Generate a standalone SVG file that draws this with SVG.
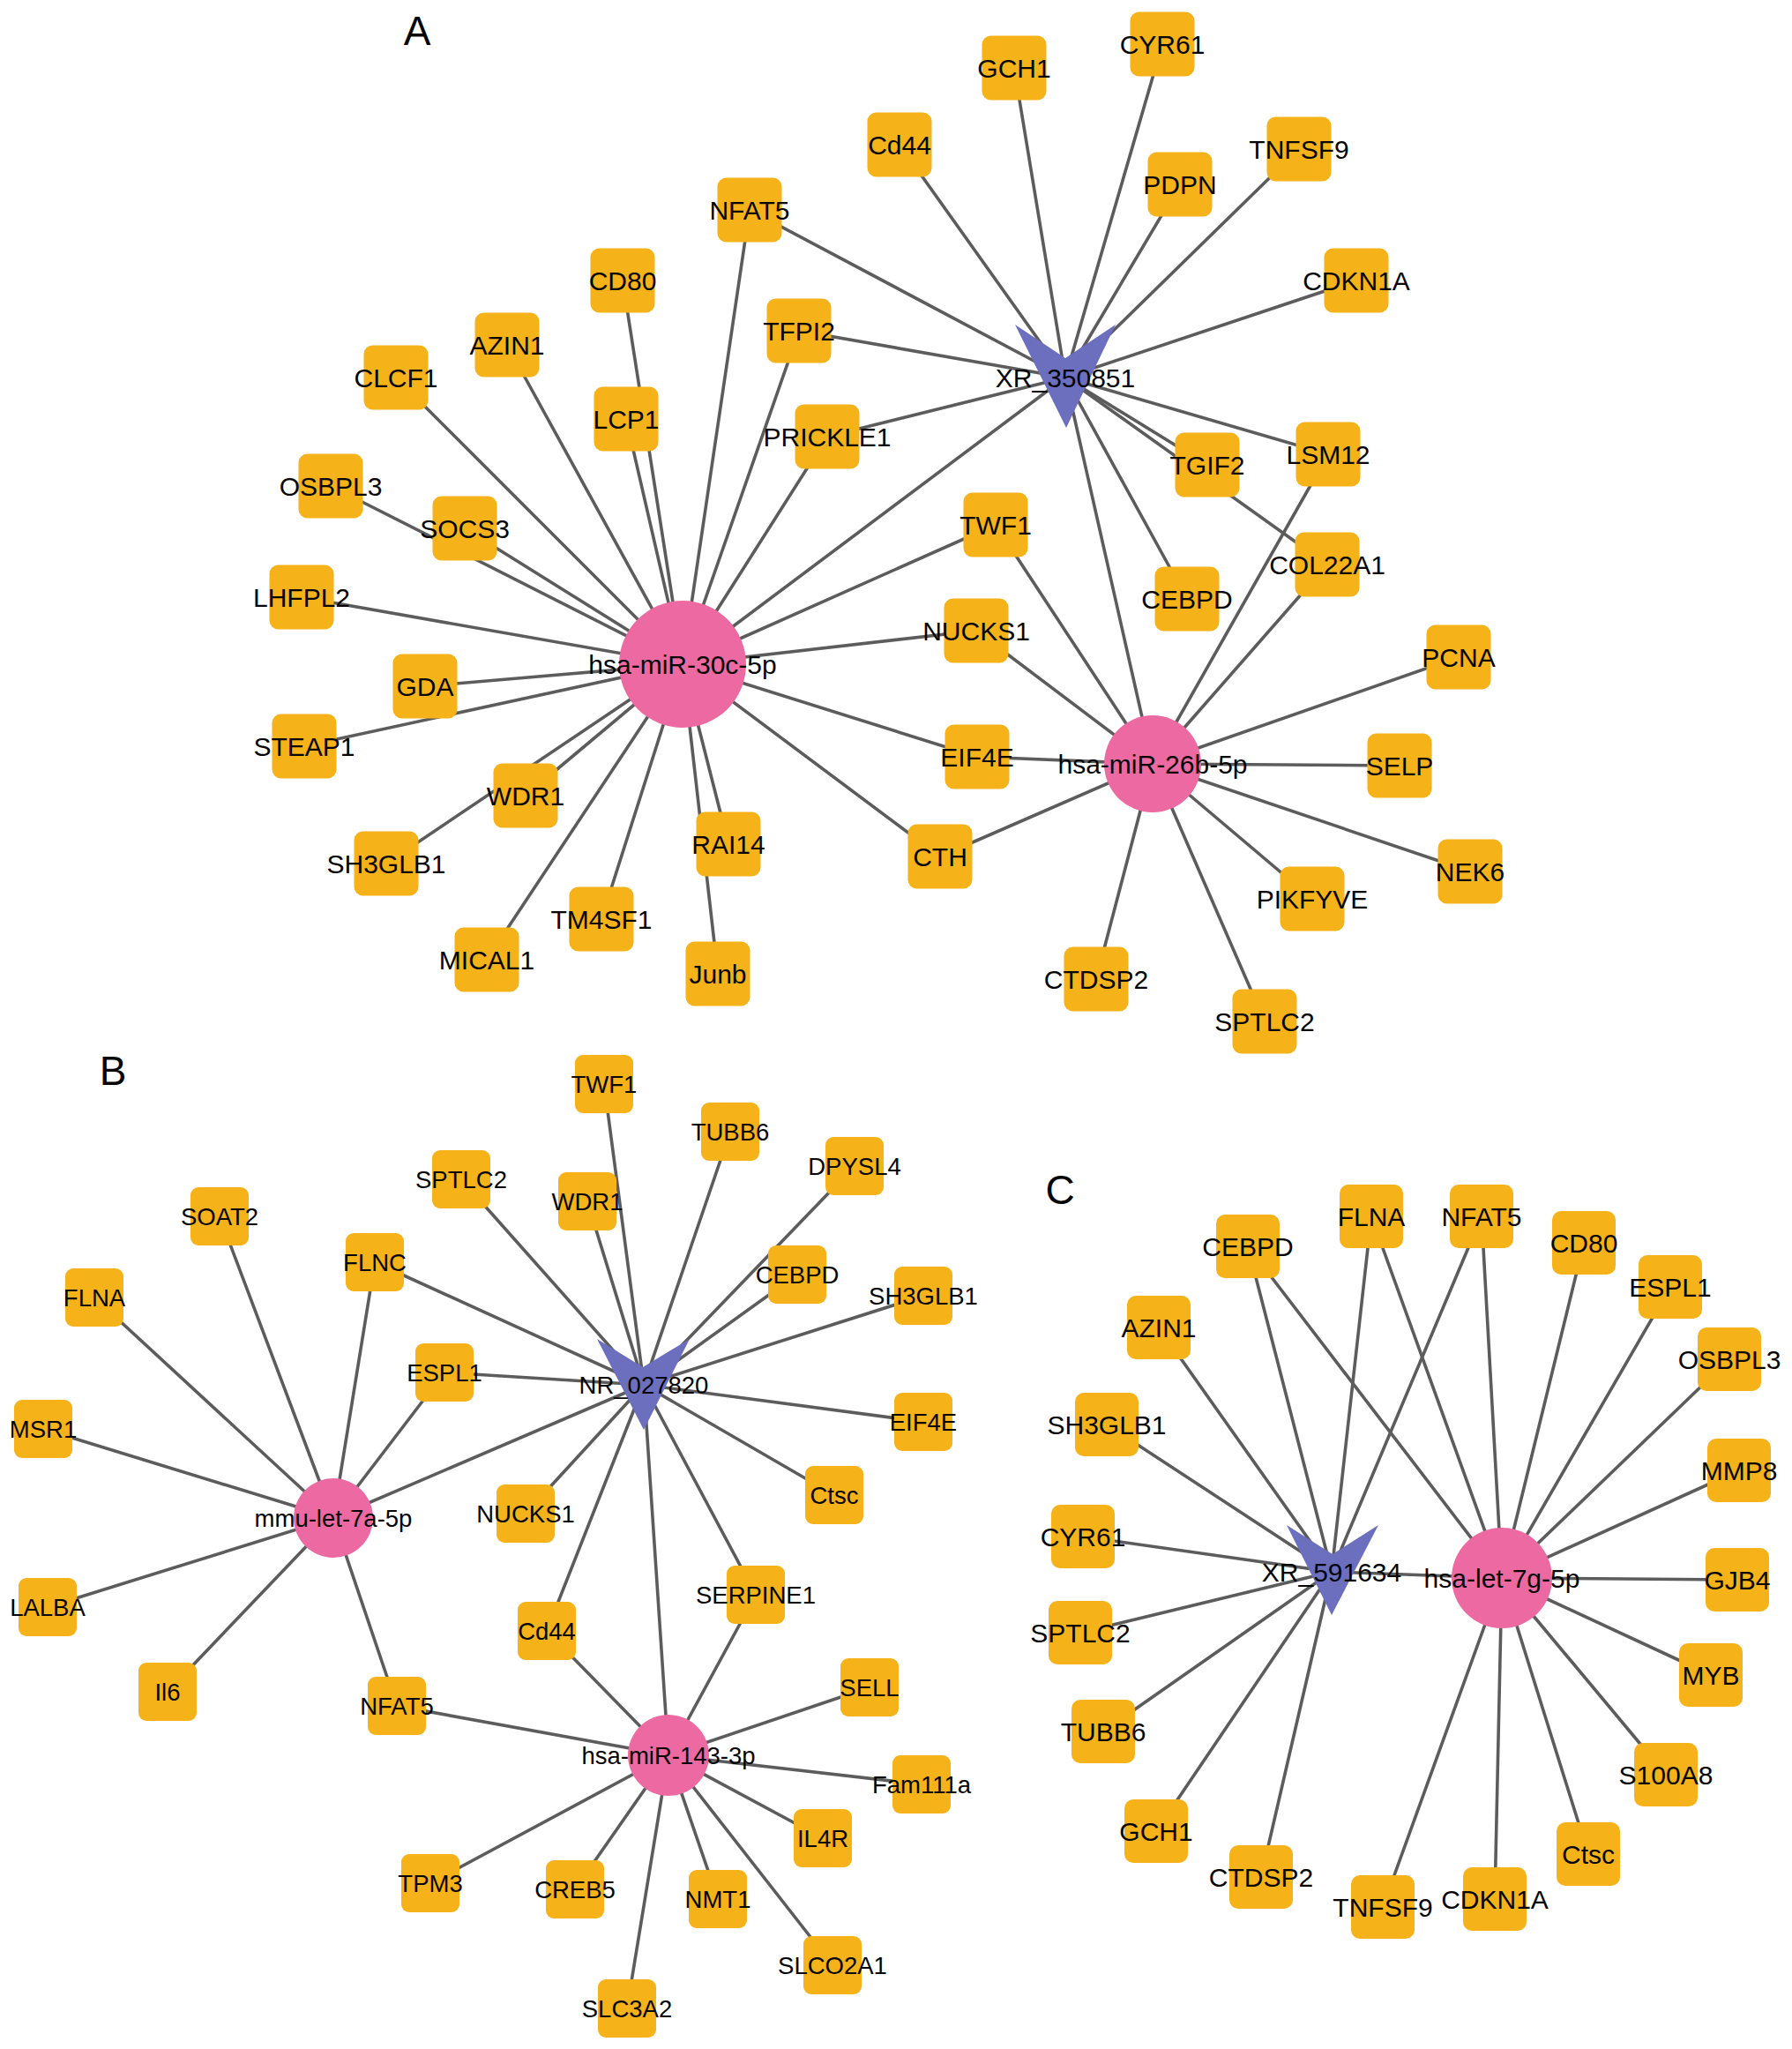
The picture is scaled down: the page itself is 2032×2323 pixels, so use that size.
<svg xmlns="http://www.w3.org/2000/svg" width="2032" height="2323" viewBox="0 0 2032 2323">
<style>
.bg{fill:#ffffff}
.e line{stroke:#5c5c5c;stroke-width:3.6;stroke-linecap:round}
.ga{fill:#F6B219}
.m{fill:#EC6AA1}
.v{fill:#6B6FBE}
text{font-family:"Liberation Sans",Arial,sans-serif;fill:#050505;text-anchor:middle}
.ta{font-size:30px}
.tb{font-size:27.5px}
.tc{font-size:30px}
.lbl{font-size:46px}
</style>
<rect class="bg" x="0" y="0" width="2032" height="2323"/>
<text class="lbl" x="473" y="51">A</text>
<text class="lbl" x="128" y="1230">B</text>
<text class="lbl" x="1202" y="1365">C</text>
<g id="connectors" class="e">
<!-- Panel A: hsa-miR-30c-5p -->
<line x1="774" y1="753" x2="850" y2="238"/>
<line x1="774" y1="753" x2="706" y2="318"/>
<line x1="774" y1="753" x2="575" y2="391"/>
<line x1="774" y1="753" x2="449" y2="428"/>
<line x1="774" y1="753" x2="710" y2="475"/>
<line x1="774" y1="753" x2="906" y2="375"/>
<line x1="774" y1="753" x2="938" y2="495"/>
<line x1="774" y1="753" x2="375" y2="551"/>
<line x1="774" y1="753" x2="527" y2="599"/>
<line x1="774" y1="753" x2="342" y2="677"/>
<line x1="774" y1="753" x2="482" y2="778"/>
<line x1="774" y1="753" x2="345" y2="846"/>
<line x1="774" y1="753" x2="596" y2="902"/>
<line x1="774" y1="753" x2="438" y2="979"/>
<line x1="774" y1="753" x2="552" y2="1088"/>
<line x1="774" y1="753" x2="682" y2="1042"/>
<line x1="774" y1="753" x2="826" y2="957"/>
<line x1="774" y1="753" x2="814" y2="1104"/>
<line x1="774" y1="753" x2="1066" y2="971"/>
<line x1="774" y1="753" x2="1108" y2="858"/>
<line x1="774" y1="753" x2="1107" y2="715"/>
<line x1="774" y1="753" x2="1129" y2="595"/>
<line x1="774" y1="753" x2="1208" y2="428"/>
<!-- Panel A: hsa-miR-26b-5p -->
<line x1="1307" y1="866" x2="1129" y2="595"/>
<line x1="1307" y1="866" x2="1107" y2="715"/>
<line x1="1307" y1="866" x2="1108" y2="858"/>
<line x1="1307" y1="866" x2="1066" y2="971"/>
<line x1="1307" y1="866" x2="1243" y2="1110"/>
<line x1="1307" y1="866" x2="1434" y2="1158"/>
<line x1="1307" y1="866" x2="1488" y2="1019"/>
<line x1="1307" y1="866" x2="1667" y2="988"/>
<line x1="1307" y1="866" x2="1587" y2="868"/>
<line x1="1307" y1="866" x2="1654" y2="745"/>
<line x1="1307" y1="866" x2="1505" y2="640"/>
<line x1="1307" y1="866" x2="1506" y2="515"/>
<line x1="1307" y1="866" x2="1208" y2="428"/>
<!-- Panel A: XR_350851 -->
<line x1="1208" y1="428" x2="1020" y2="164"/>
<line x1="1208" y1="428" x2="1150" y2="77"/>
<line x1="1208" y1="428" x2="1318" y2="50"/>
<line x1="1208" y1="428" x2="1338" y2="209"/>
<line x1="1208" y1="428" x2="1473" y2="169"/>
<line x1="1208" y1="428" x2="1538" y2="318"/>
<line x1="1208" y1="428" x2="850" y2="238"/>
<line x1="1208" y1="428" x2="906" y2="375"/>
<line x1="1208" y1="428" x2="938" y2="495"/>
<line x1="1208" y1="428" x2="1369" y2="527"/>
<line x1="1208" y1="428" x2="1505" y2="640"/>
<line x1="1208" y1="428" x2="1506" y2="515"/>
<line x1="1208" y1="428" x2="1346" y2="679"/>
<!-- Panel B: NR_027820 -->
<line x1="730" y1="1570" x2="685" y2="1229"/>
<line x1="730" y1="1570" x2="828" y2="1283"/>
<line x1="730" y1="1570" x2="969" y2="1322"/>
<line x1="730" y1="1570" x2="523" y2="1337"/>
<line x1="730" y1="1570" x2="666" y2="1362"/>
<line x1="730" y1="1570" x2="425" y2="1431"/>
<line x1="730" y1="1570" x2="904" y2="1445"/>
<line x1="730" y1="1570" x2="1047" y2="1469"/>
<line x1="730" y1="1570" x2="504" y2="1556"/>
<line x1="730" y1="1570" x2="1047" y2="1612"/>
<line x1="730" y1="1570" x2="946" y2="1695"/>
<line x1="730" y1="1570" x2="596" y2="1716"/>
<line x1="730" y1="1570" x2="857" y2="1808"/>
<line x1="730" y1="1570" x2="620" y2="1849"/>
<line x1="730" y1="1570" x2="758" y2="1990"/>
<line x1="730" y1="1570" x2="378" y2="1721"/>
<!-- Panel B: mmu-let-7a-5p -->
<line x1="378" y1="1721" x2="249" y2="1379"/>
<line x1="378" y1="1721" x2="107" y2="1471"/>
<line x1="378" y1="1721" x2="425" y2="1431"/>
<line x1="378" y1="1721" x2="504" y2="1556"/>
<line x1="378" y1="1721" x2="49" y2="1620"/>
<line x1="378" y1="1721" x2="54" y2="1822"/>
<line x1="378" y1="1721" x2="190" y2="1918"/>
<line x1="378" y1="1721" x2="450" y2="1934"/>
<!-- Panel B: hsa-miR-143-3p -->
<line x1="758" y1="1990" x2="450" y2="1934"/>
<line x1="758" y1="1990" x2="620" y2="1849"/>
<line x1="758" y1="1990" x2="857" y2="1808"/>
<line x1="758" y1="1990" x2="986" y2="1913"/>
<line x1="758" y1="1990" x2="1045" y2="2023"/>
<line x1="758" y1="1990" x2="933" y2="2084"/>
<line x1="758" y1="1990" x2="944" y2="2228"/>
<line x1="758" y1="1990" x2="814" y2="2153"/>
<line x1="758" y1="1990" x2="711" y2="2277"/>
<line x1="758" y1="1990" x2="652" y2="2142"/>
<line x1="758" y1="1990" x2="488" y2="2135"/>
<!-- Panel C: XR_591634 -->
<line x1="1510" y1="1782" x2="1415" y2="1413"/>
<line x1="1510" y1="1782" x2="1555" y2="1379"/>
<line x1="1510" y1="1782" x2="1680" y2="1379"/>
<line x1="1510" y1="1782" x2="1314" y2="1505"/>
<line x1="1510" y1="1782" x2="1255" y2="1615"/>
<line x1="1510" y1="1782" x2="1228" y2="1742"/>
<line x1="1510" y1="1782" x2="1225" y2="1851"/>
<line x1="1510" y1="1782" x2="1251" y2="1963"/>
<line x1="1510" y1="1782" x2="1311" y2="2076"/>
<line x1="1510" y1="1782" x2="1430" y2="2128"/>
<line x1="1510" y1="1782" x2="1703" y2="1789"/>
<!-- Panel C: hsa-let-7g-5p -->
<line x1="1703" y1="1789" x2="1415" y2="1413"/>
<line x1="1703" y1="1789" x2="1555" y2="1379"/>
<line x1="1703" y1="1789" x2="1680" y2="1379"/>
<line x1="1703" y1="1789" x2="1796" y2="1409"/>
<line x1="1703" y1="1789" x2="1894" y2="1459"/>
<line x1="1703" y1="1789" x2="1961" y2="1541"/>
<line x1="1703" y1="1789" x2="1972" y2="1667"/>
<line x1="1703" y1="1789" x2="1970" y2="1791"/>
<line x1="1703" y1="1789" x2="1940" y2="1899"/>
<line x1="1703" y1="1789" x2="1889" y2="2012"/>
<line x1="1703" y1="1789" x2="1801" y2="2102"/>
<line x1="1703" y1="1789" x2="1695" y2="2153"/>
<line x1="1703" y1="1789" x2="1568" y2="2162"/>
</g>
<!-- Panel A nodes -->
<g id="a-GCH1"><rect class="ga" x="1113.5" y="40.5" width="73" height="73" rx="10"/><text class="ta" x="1150" y="88">GCH1</text></g>
<g id="a-CYR61"><rect class="ga" x="1281.5" y="13.5" width="73" height="73" rx="10"/><text class="ta" x="1318" y="61">CYR61</text></g>
<g id="a-Cd44"><rect class="ga" x="983.5" y="127.5" width="73" height="73" rx="10"/><text class="ta" x="1020" y="175">Cd44</text></g>
<g id="a-PDPN"><rect class="ga" x="1301.5" y="172.5" width="73" height="73" rx="10"/><text class="ta" x="1338" y="220">PDPN</text></g>
<g id="a-TNFSF9"><rect class="ga" x="1436.5" y="132.5" width="73" height="73" rx="10"/><text class="ta" x="1473" y="180">TNFSF9</text></g>
<g id="a-NFAT5"><rect class="ga" x="813.5" y="201.5" width="73" height="73" rx="10"/><text class="ta" x="850" y="249">NFAT5</text></g>
<g id="a-CD80"><rect class="ga" x="669.5" y="281.5" width="73" height="73" rx="10"/><text class="ta" x="706" y="329">CD80</text></g>
<g id="a-CDKN1A"><rect class="ga" x="1501.5" y="281.5" width="73" height="73" rx="10"/><text class="ta" x="1538" y="329">CDKN1A</text></g>
<g id="a-TFPI2"><rect class="ga" x="869.5" y="338.5" width="73" height="73" rx="10"/><text class="ta" x="906" y="386">TFPI2</text></g>
<g id="a-AZIN1"><rect class="ga" x="538.5" y="354.5" width="73" height="73" rx="10"/><text class="ta" x="575" y="402">AZIN1</text></g>
<g id="a-CLCF1"><rect class="ga" x="412.5" y="391.5" width="73" height="73" rx="10"/><text class="ta" x="449" y="439">CLCF1</text></g>
<g id="a-LCP1"><rect class="ga" x="673.5" y="438.5" width="73" height="73" rx="10"/><text class="ta" x="710" y="486">LCP1</text></g>
<g id="a-PRICKLE1"><rect class="ga" x="901.5" y="458.5" width="73" height="73" rx="10"/><text class="ta" x="938" y="506">PRICKLE1</text></g>
<g id="a-TGIF2"><rect class="ga" x="1332.5" y="490.5" width="73" height="73" rx="10"/><text class="ta" x="1369" y="538">TGIF2</text></g>
<g id="a-LSM12"><rect class="ga" x="1469.5" y="478.5" width="73" height="73" rx="10"/><text class="ta" x="1506" y="526">LSM12</text></g>
<g id="a-OSBPL3"><rect class="ga" x="338.5" y="514.5" width="73" height="73" rx="10"/><text class="ta" x="375" y="562">OSBPL3</text></g>
<g id="a-SOCS3"><rect class="ga" x="490.5" y="562.5" width="73" height="73" rx="10"/><text class="ta" x="527" y="610">SOCS3</text></g>
<g id="a-TWF1"><rect class="ga" x="1092.5" y="558.5" width="73" height="73" rx="10"/><text class="ta" x="1129" y="606">TWF1</text></g>
<g id="a-COL22A1"><rect class="ga" x="1468.5" y="603.5" width="73" height="73" rx="10"/><text class="ta" x="1505" y="651">COL22A1</text></g>
<g id="a-LHFPL2"><rect class="ga" x="305.5" y="640.5" width="73" height="73" rx="10"/><text class="ta" x="342" y="688">LHFPL2</text></g>
<g id="a-CEBPD"><rect class="ga" x="1309.5" y="642.5" width="73" height="73" rx="10"/><text class="ta" x="1346" y="690">CEBPD</text></g>
<g id="a-NUCKS1"><rect class="ga" x="1070.5" y="678.5" width="73" height="73" rx="10"/><text class="ta" x="1107" y="726">NUCKS1</text></g>
<g id="a-PCNA"><rect class="ga" x="1617.5" y="708.5" width="73" height="73" rx="10"/><text class="ta" x="1654" y="756">PCNA</text></g>
<g id="a-GDA"><rect class="ga" x="445.5" y="741.5" width="73" height="73" rx="10"/><text class="ta" x="482" y="789">GDA</text></g>
<g id="a-STEAP1"><rect class="ga" x="308.5" y="809.5" width="73" height="73" rx="10"/><text class="ta" x="345" y="857">STEAP1</text></g>
<g id="a-EIF4E"><rect class="ga" x="1071.5" y="821.5" width="73" height="73" rx="10"/><text class="ta" x="1108" y="869">EIF4E</text></g>
<g id="a-SELP"><rect class="ga" x="1550.5" y="831.5" width="73" height="73" rx="10"/><text class="ta" x="1587" y="879">SELP</text></g>
<g id="a-WDR1"><rect class="ga" x="559.5" y="865.5" width="73" height="73" rx="10"/><text class="ta" x="596" y="913">WDR1</text></g>
<g id="a-SH3GLB1"><rect class="ga" x="401.5" y="942.5" width="73" height="73" rx="10"/><text class="ta" x="438" y="990">SH3GLB1</text></g>
<g id="a-RAI14"><rect class="ga" x="789.5" y="920.5" width="73" height="73" rx="10"/><text class="ta" x="826" y="968">RAI14</text></g>
<g id="a-CTH"><rect class="ga" x="1029.5" y="934.5" width="73" height="73" rx="10"/><text class="ta" x="1066" y="982">CTH</text></g>
<g id="a-NEK6"><rect class="ga" x="1630.5" y="951.5" width="73" height="73" rx="10"/><text class="ta" x="1667" y="999">NEK6</text></g>
<g id="a-PIKFYVE"><rect class="ga" x="1451.5" y="982.5" width="73" height="73" rx="10"/><text class="ta" x="1488" y="1030">PIKFYVE</text></g>
<g id="a-TM4SF1"><rect class="ga" x="645.5" y="1005.5" width="73" height="73" rx="10"/><text class="ta" x="682" y="1053">TM4SF1</text></g>
<g id="a-MICAL1"><rect class="ga" x="515.5" y="1051.5" width="73" height="73" rx="10"/><text class="ta" x="552" y="1099">MICAL1</text></g>
<g id="a-Junb"><rect class="ga" x="777.5" y="1067.5" width="73" height="73" rx="10"/><text class="ta" x="814" y="1115">Junb</text></g>
<g id="a-CTDSP2"><rect class="ga" x="1206.5" y="1073.5" width="73" height="73" rx="10"/><text class="ta" x="1243" y="1121">CTDSP2</text></g>
<g id="a-SPTLC2"><rect class="ga" x="1397.5" y="1121.5" width="73" height="73" rx="10"/><text class="ta" x="1434" y="1169">SPTLC2</text></g>
<g id="a-hsa-miR-30c-5p"><circle class="m" cx="774" cy="753" r="72"/><text class="ta" x="774" y="764">hsa-miR-30c-5p</text></g>
<g id="a-hsa-miR-26b-5p"><circle class="m" cx="1307" cy="866" r="55"/><text class="ta" x="1307" y="877">hsa-miR-26b-5p</text></g>
<g id="a-XR_350851"><polygon class="v" points="1151,368 1208,406 1265,368 1209,485"/><text class="ta" x="1208" y="439">XR_350851</text></g>
<!-- Panel B nodes -->
<g id="b-TWF1"><rect class="ga" x="652" y="1196" width="66" height="66" rx="9"/><text class="tb" x="685" y="1239">TWF1</text></g>
<g id="b-TUBB6"><rect class="ga" x="795" y="1250" width="66" height="66" rx="9"/><text class="tb" x="828" y="1293">TUBB6</text></g>
<g id="b-DPYSL4"><rect class="ga" x="936" y="1289" width="66" height="66" rx="9"/><text class="tb" x="969" y="1332">DPYSL4</text></g>
<g id="b-SPTLC2"><rect class="ga" x="490" y="1304" width="66" height="66" rx="9"/><text class="tb" x="523" y="1347">SPTLC2</text></g>
<g id="b-WDR1"><rect class="ga" x="633" y="1329" width="66" height="66" rx="9"/><text class="tb" x="666" y="1372">WDR1</text></g>
<g id="b-SOAT2"><rect class="ga" x="216" y="1346" width="66" height="66" rx="9"/><text class="tb" x="249" y="1389">SOAT2</text></g>
<g id="b-FLNC"><rect class="ga" x="392" y="1398" width="66" height="66" rx="9"/><text class="tb" x="425" y="1441">FLNC</text></g>
<g id="b-CEBPD"><rect class="ga" x="871" y="1412" width="66" height="66" rx="9"/><text class="tb" x="904" y="1455">CEBPD</text></g>
<g id="b-SH3GLB1"><rect class="ga" x="1014" y="1436" width="66" height="66" rx="9"/><text class="tb" x="1047" y="1479">SH3GLB1</text></g>
<g id="b-FLNA"><rect class="ga" x="74" y="1438" width="66" height="66" rx="9"/><text class="tb" x="107" y="1481">FLNA</text></g>
<g id="b-ESPL1"><rect class="ga" x="471" y="1523" width="66" height="66" rx="9"/><text class="tb" x="504" y="1566">ESPL1</text></g>
<g id="b-MSR1"><rect class="ga" x="16" y="1587" width="66" height="66" rx="9"/><text class="tb" x="49" y="1630">MSR1</text></g>
<g id="b-EIF4E"><rect class="ga" x="1014" y="1579" width="66" height="66" rx="9"/><text class="tb" x="1047" y="1622">EIF4E</text></g>
<g id="b-Ctsc"><rect class="ga" x="913" y="1662" width="66" height="66" rx="9"/><text class="tb" x="946" y="1705">Ctsc</text></g>
<g id="b-NUCKS1"><rect class="ga" x="563" y="1683" width="66" height="66" rx="9"/><text class="tb" x="596" y="1726">NUCKS1</text></g>
<g id="b-SERPINE1"><rect class="ga" x="824" y="1775" width="66" height="66" rx="9"/><text class="tb" x="857" y="1818">SERPINE1</text></g>
<g id="b-LALBA"><rect class="ga" x="21" y="1789" width="66" height="66" rx="9"/><text class="tb" x="54" y="1832">LALBA</text></g>
<g id="b-Cd44"><rect class="ga" x="587" y="1816" width="66" height="66" rx="9"/><text class="tb" x="620" y="1859">Cd44</text></g>
<g id="b-Il6"><rect class="ga" x="157" y="1885" width="66" height="66" rx="9"/><text class="tb" x="190" y="1928">Il6</text></g>
<g id="b-SELL"><rect class="ga" x="953" y="1880" width="66" height="66" rx="9"/><text class="tb" x="986" y="1923">SELL</text></g>
<g id="b-NFAT5"><rect class="ga" x="417" y="1901" width="66" height="66" rx="9"/><text class="tb" x="450" y="1944">NFAT5</text></g>
<g id="b-Fam111a"><rect class="ga" x="1012" y="1990" width="66" height="66" rx="9"/><text class="tb" x="1045" y="2033">Fam111a</text></g>
<g id="b-IL4R"><rect class="ga" x="900" y="2051" width="66" height="66" rx="9"/><text class="tb" x="933" y="2094">IL4R</text></g>
<g id="b-TPM3"><rect class="ga" x="455" y="2102" width="66" height="66" rx="9"/><text class="tb" x="488" y="2145">TPM3</text></g>
<g id="b-CREB5"><rect class="ga" x="619" y="2109" width="66" height="66" rx="9"/><text class="tb" x="652" y="2152">CREB5</text></g>
<g id="b-NMT1"><rect class="ga" x="781" y="2120" width="66" height="66" rx="9"/><text class="tb" x="814" y="2163">NMT1</text></g>
<g id="b-SLCO2A1"><rect class="ga" x="911" y="2195" width="66" height="66" rx="9"/><text class="tb" x="944" y="2238">SLCO2A1</text></g>
<g id="b-SLC3A2"><rect class="ga" x="678" y="2244" width="66" height="66" rx="9"/><text class="tb" x="711" y="2287">SLC3A2</text></g>
<g id="b-mmu-let-7a-5p"><circle class="m" cx="378" cy="1721" r="45"/><text class="tb" x="378" y="1731">mmu-let-7a-5p</text></g>
<g id="b-hsa-miR-143-3p"><circle class="m" cx="758" cy="1990" r="46"/><text class="tb" x="758" y="2000">hsa-miR-143-3p</text></g>
<g id="b-NR_027820"><polygon class="v" points="677,1518 729,1550 782,1518 730,1621"/><text class="tb" x="730" y="1580">NR_027820</text></g>
<!-- Panel C nodes -->
<g id="c-CEBPD"><rect class="ga" x="1379" y="1377" width="72" height="72" rx="10"/><text class="tc" x="1415" y="1424">CEBPD</text></g>
<g id="c-FLNA"><rect class="ga" x="1519" y="1343" width="72" height="72" rx="10"/><text class="tc" x="1555" y="1390">FLNA</text></g>
<g id="c-NFAT5"><rect class="ga" x="1644" y="1343" width="72" height="72" rx="10"/><text class="tc" x="1680" y="1390">NFAT5</text></g>
<g id="c-CD80"><rect class="ga" x="1760" y="1373" width="72" height="72" rx="10"/><text class="tc" x="1796" y="1420">CD80</text></g>
<g id="c-ESPL1"><rect class="ga" x="1858" y="1423" width="72" height="72" rx="10"/><text class="tc" x="1894" y="1470">ESPL1</text></g>
<g id="c-AZIN1"><rect class="ga" x="1278" y="1469" width="72" height="72" rx="10"/><text class="tc" x="1314" y="1516">AZIN1</text></g>
<g id="c-OSBPL3"><rect class="ga" x="1925" y="1505" width="72" height="72" rx="10"/><text class="tc" x="1961" y="1552">OSBPL3</text></g>
<g id="c-SH3GLB1"><rect class="ga" x="1219" y="1579" width="72" height="72" rx="10"/><text class="tc" x="1255" y="1626">SH3GLB1</text></g>
<g id="c-MMP8"><rect class="ga" x="1936" y="1631" width="72" height="72" rx="10"/><text class="tc" x="1972" y="1678">MMP8</text></g>
<g id="c-CYR61"><rect class="ga" x="1192" y="1706" width="72" height="72" rx="10"/><text class="tc" x="1228" y="1753">CYR61</text></g>
<g id="c-GJB4"><rect class="ga" x="1934" y="1755" width="72" height="72" rx="10"/><text class="tc" x="1970" y="1802">GJB4</text></g>
<g id="c-SPTLC2"><rect class="ga" x="1189" y="1815" width="72" height="72" rx="10"/><text class="tc" x="1225" y="1862">SPTLC2</text></g>
<g id="c-MYB"><rect class="ga" x="1904" y="1863" width="72" height="72" rx="10"/><text class="tc" x="1940" y="1910">MYB</text></g>
<g id="c-TUBB6"><rect class="ga" x="1215" y="1927" width="72" height="72" rx="10"/><text class="tc" x="1251" y="1974">TUBB6</text></g>
<g id="c-S100A8"><rect class="ga" x="1853" y="1976" width="72" height="72" rx="10"/><text class="tc" x="1889" y="2023">S100A8</text></g>
<g id="c-GCH1"><rect class="ga" x="1275" y="2040" width="72" height="72" rx="10"/><text class="tc" x="1311" y="2087">GCH1</text></g>
<g id="c-Ctsc"><rect class="ga" x="1765" y="2066" width="72" height="72" rx="10"/><text class="tc" x="1801" y="2113">Ctsc</text></g>
<g id="c-CTDSP2"><rect class="ga" x="1394" y="2092" width="72" height="72" rx="10"/><text class="tc" x="1430" y="2139">CTDSP2</text></g>
<g id="c-CDKN1A"><rect class="ga" x="1659" y="2117" width="72" height="72" rx="10"/><text class="tc" x="1695" y="2164">CDKN1A</text></g>
<g id="c-TNFSF9"><rect class="ga" x="1532" y="2126" width="72" height="72" rx="10"/><text class="tc" x="1568" y="2173">TNFSF9</text></g>
<g id="c-hsa-let-7g-5p"><circle class="m" cx="1703" cy="1789" r="57"/><text class="tc" x="1703" y="1800">hsa-let-7g-5p</text></g>
<g id="c-XR_591634"><polygon class="v" points="1459,1729 1511,1762 1563,1729 1510,1831"/><text class="tc" x="1510" y="1793">XR_591634</text></g>
</svg>
